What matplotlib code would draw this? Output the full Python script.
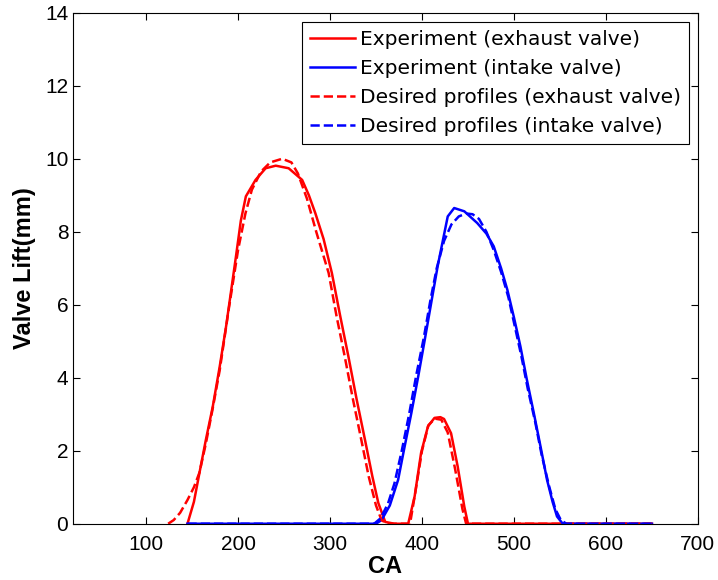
import matplotlib
matplotlib.use("Agg")
import matplotlib.pyplot as plt

plt.rcParams["font.family"] = ["Liberation Sans", "DejaVu Sans"]

# exhaust valve, measured
ex_ca = [145, 152, 158, 165, 172.5, 180, 187, 197.7, 203, 208.5, 219, 230, 241, 255,
         269.7, 277, 284, 293, 302, 311, 320, 329, 338, 346, 352.5, 360, 370, 385,
         392, 399, 406.5, 413.6, 420, 424, 431.6, 438.8, 446, 450, 650]
ex_lift = [0, 0.6, 1.39, 2.3, 3.21, 4.3, 5.41, 7.32, 8.3, 8.97, 9.42, 9.74, 9.81, 9.74,
           9.42, 9.0, 8.51, 7.8, 6.87, 5.7, 4.58, 3.4, 2.3, 1.3, 0.57, 0.05, 0, 0,
           0.75, 1.94, 2.67, 2.9, 2.92, 2.87, 2.48, 1.57, 0.47, 0, 0]

# intake valve, measured
in_ca = [145, 350, 356, 365, 374, 381, 388.4, 396, 403, 410, 417, 423, 428, 435, 446,
         460, 470, 478, 486, 492.8, 500, 507, 514, 521.6, 529, 536, 542, 546.8, 553, 650]
in_lift = [0, 0, 0.1, 0.5, 1.2, 2.1, 3.03, 4.05, 5.04, 6.05, 7.05, 7.8, 8.42, 8.65, 8.56,
           8.24, 7.95, 7.6, 7.0, 6.41, 5.65, 4.86, 3.95, 3.03, 2.1, 1.2, 0.6, 0.2, 0, 0]

# exhaust valve, desired
exd_ca = [124, 130, 137, 145, 152, 158, 165, 172, 180, 190, 200, 208, 215, 225, 235,
          248, 258, 265, 275, 285, 298.5, 307, 316, 325, 334, 342, 350, 356, 362, 387,
          393, 400, 407, 414, 421, 428, 436, 444, 448, 650]
exd_lift = [0, 0.1, 0.3, 0.65, 1.0, 1.4, 2.2, 3.1, 4.2, 5.9, 7.5, 8.5, 9.15, 9.65, 9.9,
            10.0, 9.9, 9.6, 8.9, 8.0, 6.87, 5.7, 4.58, 3.4, 2.3, 1.3, 0.5, 0.1, 0, 0,
            0.9, 2.0, 2.7, 2.88, 2.85, 2.5, 1.5, 0.4, 0, 0]

# intake valve, desired
ind_ca = [145, 348, 355, 363, 370, 378, 386, 394, 402, 409, 416, 424, 432, 440, 448,
          455, 462, 470, 478, 486, 494, 501, 508, 515, 523, 530, 538, 545, 551, 557, 650]
ind_lift = [0, 0, 0.15, 0.55, 1.1, 2.0, 3.0, 4.1, 5.1, 6.1, 7.0, 7.75, 8.2, 8.42, 8.5,
            8.48, 8.35, 8.0, 7.5, 6.9, 6.2, 5.4, 4.6, 3.7, 2.8, 1.9, 1.05, 0.4, 0.1, 0, 0]

fig = plt.figure(figsize=(7.18, 5.80), dpi=100)
ax = fig.add_axes([0.101, 0.097, 0.871, 0.881])

lw = 1.8
ax.plot(ex_ca, ex_lift, color="red", lw=lw, label="Experiment (exhaust valve)")
ax.plot(in_ca, in_lift, color="blue", lw=lw, label="Experiment (intake valve)")
ax.plot(exd_ca, exd_lift, color="red", lw=lw, ls="--", label="Desired profiles (exhaust valve)")
ax.plot(ind_ca, ind_lift, color="blue", lw=lw, ls="--", label="Desired profiles (intake valve)")

ax.set_xlim(20, 700)
ax.set_ylim(0, 14)
ax.set_xticks(range(100, 701, 100))
ax.set_yticks(range(0, 15, 2))
ax.tick_params(direction="in", top=True, right=True, length=5, labelsize=15)
ax.tick_params(axis="x", pad=8)
ax.tick_params(axis="y", pad=3)
for s in ax.spines.values():
    s.set_linewidth(0.8)

ax.set_xlabel("CA", fontsize=17, fontweight="bold", labelpad=1)
ax.set_ylabel("Valve Lift(mm)", fontsize=17, fontweight="bold", labelpad=6.5)

leg = ax.legend(loc="upper right", fancybox=False, edgecolor="black",
                framealpha=1, handlelength=2.2, handletextpad=0.25, borderpad=0.4,
                labelspacing=0.5, borderaxespad=0.45,
                prop={"family": "DejaVu Sans", "size": 14.5})
leg.get_frame().set_linewidth(0.8)

fig.savefig("out.png", dpi=100)
